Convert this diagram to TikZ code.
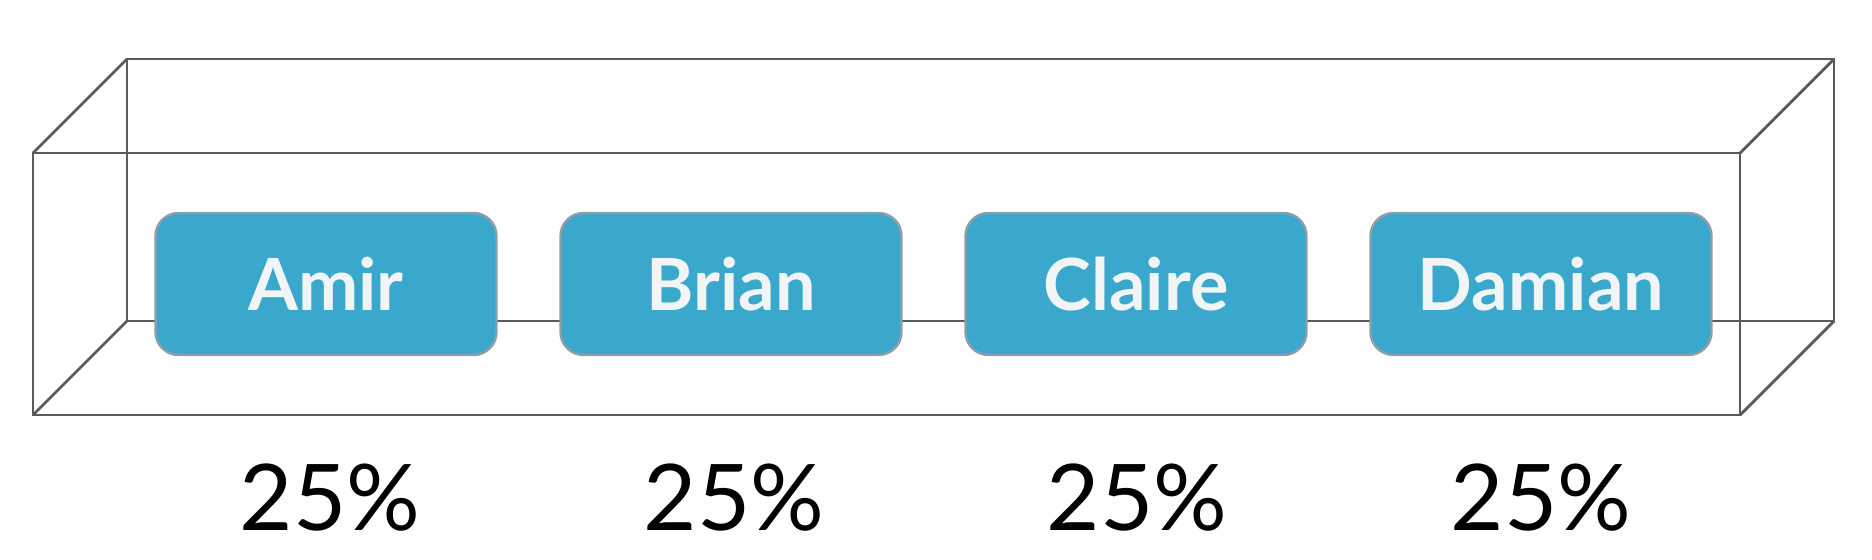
\documentclass[tikz,border=0pt]{standalone}
\usepackage{fontspec}
\setmainfont{Lato}
\usetikzlibrary{positioning}
\definecolor{wire}{HTML}{5A5A5A}
\definecolor{tile}{HTML}{3AA8CC}
\definecolor{tileedge}{HTML}{8C9EA8}
\definecolor{tiletext}{HTML}{F2F5F6}
\tikzset{
  person/.style={draw=tileedge, line width=1.2pt, fill=tile, rounded corners=11.5pt,
    minimum width=170.5pt, minimum height=71pt, text=tiletext,
    font=\fontsize{36}{42}\selectfont\bfseries},
  share/.style={text=black, font=\fontsize{46}{52}\selectfont}
}

\begin{document}
\begin{tikzpicture}[x=0.5pt, y=-0.5pt, line width=1.4pt, wire]
\useasboundingbox (0,0) rectangle (1872,560);
% Back face
    \draw (127,59) -- (1834,59) -- (1834,321) -- (127,321) -- cycle;
% Depth edges
    \draw (33,153) -- (127,59);
    \draw (1740,153) -- (1834,59);
    \draw (33,415) -- (127,321);
    \draw (1740,415) -- (1834,321);
% Front face
    \draw (33,153) rectangle (1740,415);
% People
    \node[person] (amir) at (326,284) {Amir};
    \node[person] (brian) at (731,284) {Brian};
    \node[person] (claire) at (1136,284) {Claire};
    \node[person] (damian) at (1541,284) {Damian};
% Shares
    \node[share] (amirshare) at (330,498) {25\%};
    \node[share] (brianshare) at (734,498) {25\%};
    \node[share] (claireshare) at (1137,498) {25\%};
    \node[share] (damianshare) at (1541,498) {25\%};
\end{tikzpicture}
\end{document}
